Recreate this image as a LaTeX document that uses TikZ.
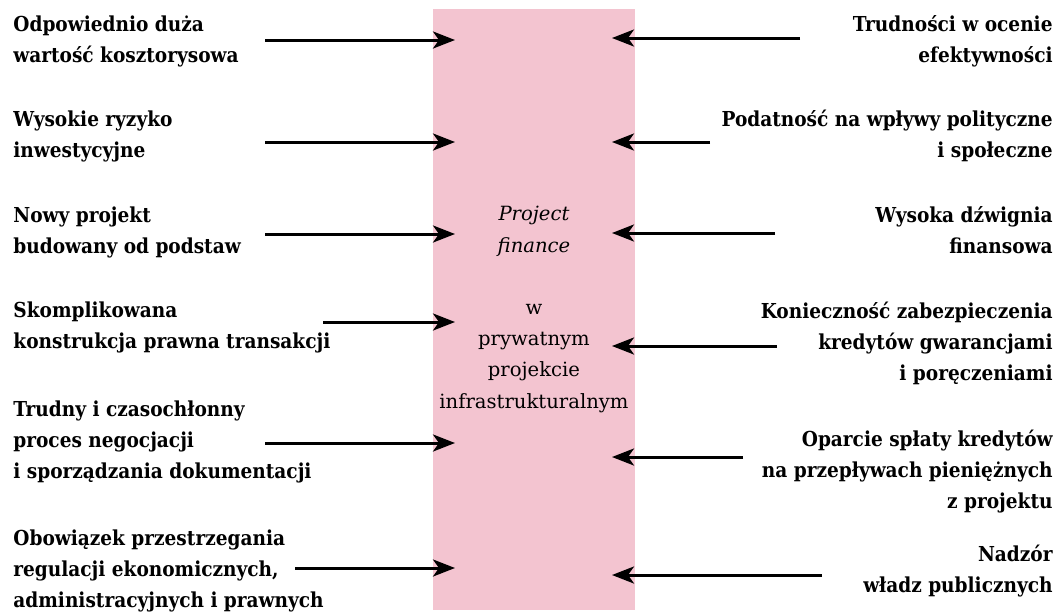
\documentclass[tikz,border=0pt]{standalone}
\usepackage{fontspec}
\setmainfont{DejaVu Serif}[BoldFont={DejaVu Serif Condensed Bold}]
\usetikzlibrary{arrows.meta}
\definecolor{pfpink}{RGB}{243,196,208}
\tikzset{
	cause/.style={font=\fontsize{10.3}{15.5}\selectfont\bfseries, inner sep=0pt, align=left, anchor=base west},
	effect/.style={font=\fontsize{10.3}{15.5}\selectfont\bfseries, inner sep=0pt, align=right, anchor=base east},
	pfbox/.style={fill=pfpink, minimum width=101pt, minimum height=300.5pt, inner sep=0pt, align=center, font=\fontsize{9.8}{15.6}\selectfont},
	feed/.style={line width=1.5pt, -{Stealth[length=11pt, width=8.5pt, inset=3pt]}}
}
\begin{document}
\begin{tikzpicture}[x=0.5pt, y=-0.5pt]
	\useasboundingbox (0,0) rectangle (1060,612);

	\node[pfbox] (pf) at (534,309.5) {\textit{Project}\\\textit{finance}\\[15.6pt]w\\prywatnym\\projekcie\\infrastrukturalnym};

	% left side (anchored at the last line)
	\node[cause] (c1) at (13,62) {Odpowiednio duża\\wartość kosztorysowa};
	\node[cause] (c2) at (13,157) {Wysokie ryzyko\\inwestycyjne};
	\node[cause] (c3) at (13,253) {Nowy projekt\\budowany od podstaw};
	\node[cause] (c4) at (13,348) {Skomplikowana\\konstrukcja prawna transakcji};
	\node[cause] (c5) at (13,478) {Trudny i czasochłonny\\proces negocjacji\\i sporządzania dokumentacji};
	\node[cause] (c6) at (13,607) {Obowiązek przestrzegania\\regulacji ekonomicznych,\\administracyjnych i prawnych};

	% right side
	\node[effect] (e1) at (1053,62) {Trudności w ocenie\\efektywności};
	\node[effect] (e2) at (1053,157) {Podatność na wpływy polityczne\\i społeczne};
	\node[effect] (e3) at (1053,253) {Wysoka dźwignia\\finansowa};
	\node[effect] (e4) at (1053,380) {Konieczność zabezpieczenia\\kredytów gwarancjami\\i poręczeniami};
	\node[effect] (e5) at (1053,508) {Oparcie spłaty kredytów\\na przepływach pieniężnych\\z projektu};
	\node[effect] (e6) at (1053,592) {Nadzór\\władz publicznych};

	\coordinate (inL) at (455,0);
	\coordinate (inR) at (612,0);

	\coordinate (a1) at (265,40);
	\coordinate (a2) at (265,142);
	\coordinate (a3) at (265,234);
	\coordinate (a4) at (323,322);
	\coordinate (a5) at (265,443);
	\coordinate (a6) at (295,568);

	\coordinate (b1) at (800,38);
	\coordinate (b2) at (710,142);
	\coordinate (b3) at (775,233);
	\coordinate (b4) at (777,346);
	\coordinate (b5) at (743,457);
	\coordinate (b6) at (822,575);

	\draw[feed] (a1) -- (a1 -| inL);
	\draw[feed] (a2) -- (a2 -| inL);
	\draw[feed] (a3) -- (a3 -| inL);
	\draw[feed] (a4) -- (a4 -| inL);
	\draw[feed] (a5) -- (a5 -| inL);
	\draw[feed] (a6) -- (a6 -| inL);

	\draw[feed] (b1) -- (b1 -| inR);
	\draw[feed] (b2) -- (b2 -| inR);
	\draw[feed] (b3) -- (b3 -| inR);
	\draw[feed] (b4) -- (b4 -| inR);
	\draw[feed] (b5) -- (b5 -| inR);
	\draw[feed] (b6) -- (b6 -| inR);
\end{tikzpicture}
\end{document}
